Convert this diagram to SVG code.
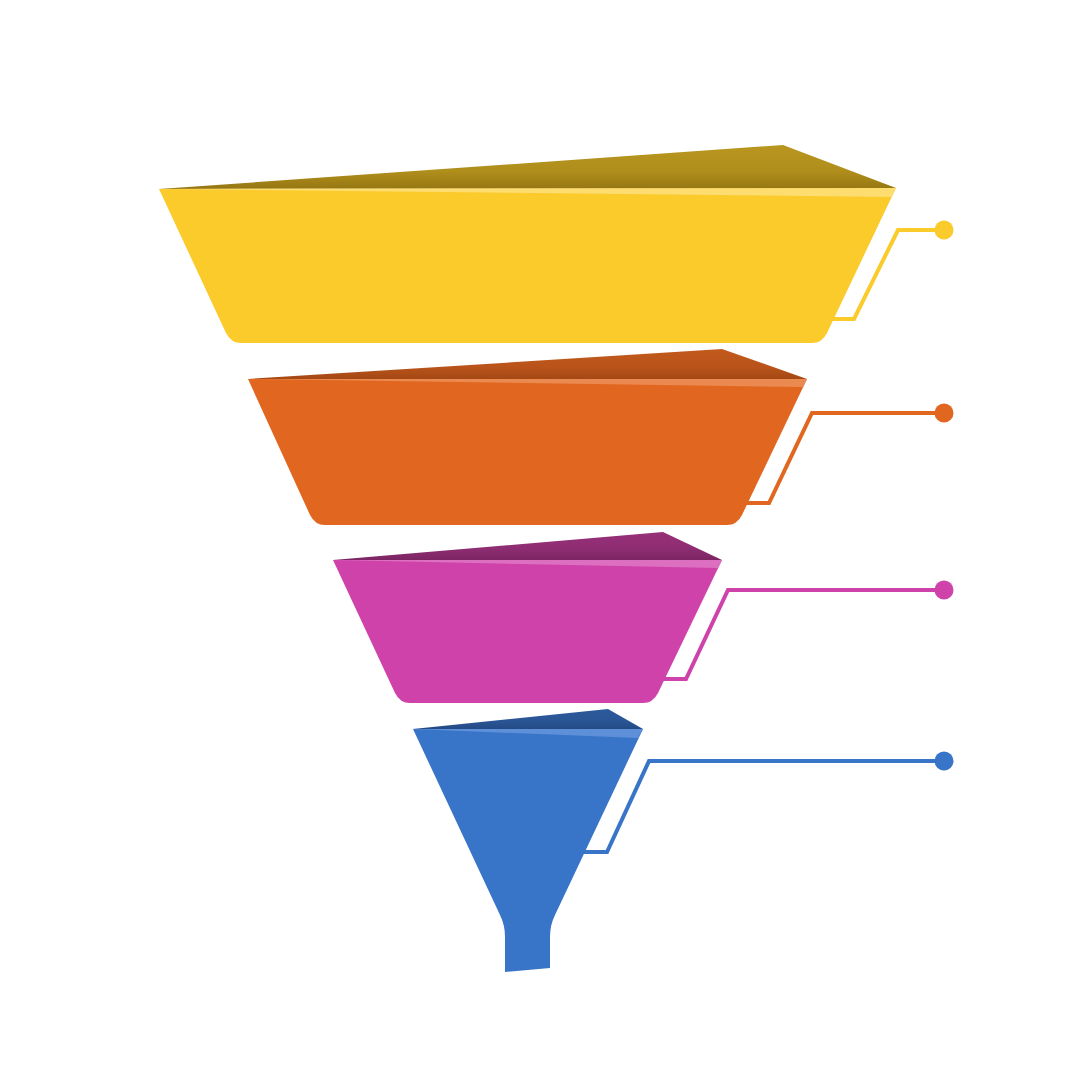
<svg xmlns="http://www.w3.org/2000/svg" width="1080" height="1080" viewBox="0 0 1080 1080">
  <defs>
    <linearGradient id="gY" x1="0" y1="0" x2="0" y2="1"><stop offset="0" stop-color="#B8961F"/><stop offset="0.6" stop-color="#B08E1C"/><stop offset="1" stop-color="#967612"/></linearGradient>
    <linearGradient id="gO" x1="0" y1="0" x2="0" y2="1"><stop offset="0" stop-color="#C25A1C"/><stop offset="0.6" stop-color="#B9531A"/><stop offset="1" stop-color="#A44814"/></linearGradient>
    <linearGradient id="gM" x1="0" y1="0" x2="0" y2="1"><stop offset="0" stop-color="#973079"/><stop offset="0.6" stop-color="#8E2D72"/><stop offset="1" stop-color="#7C2563"/></linearGradient>
    <linearGradient id="gB" x1="0" y1="0" x2="0" y2="1"><stop offset="0" stop-color="#2D5A9C"/><stop offset="0.6" stop-color="#2A5595"/><stop offset="1" stop-color="#234A85"/></linearGradient>
  </defs>
  <style>
    .lead{fill:none;stroke-width:4;stroke-linejoin:miter}
    .y{fill:#FBCA2B}.o{fill:#E1661F}.m{fill:#CE42AA}.b{fill:#3874C8}
    .ly{stroke:#FBCA2B}.lo{stroke:#E1661F}.lm{stroke:#CE42AA}.lb{stroke:#3874C8}
  </style>
  <rect width="1080" height="1080" fill="#FFFFFF"/>
  <g id="connectors">
    <path class="lead ly" d="M829,319 L854,319 L898,230 L944,230"/>
    <circle class="y" cx="944" cy="230" r="9.5"/>
    <path class="lead lo" d="M744,503 L769,503 L812,413 L944,413"/>
    <circle class="o" cx="944" cy="413" r="9.5"/>
    <path class="lead lm" d="M662,679 L686,679 L728,590 L944,590"/>
    <circle class="m" cx="944" cy="590" r="9.5"/>
    <path class="lead lb" d="M580,852 L607,852 L649,761 L944,761"/>
    <circle class="b" cx="944" cy="761" r="9.5"/>
  </g>
  <g id="layer-yellow">
    <path class="y" d="M159,189 L896,188 L827,333 Q822,343 812,343 L241,343 Q231,343 226,333 Z"/>
    <polygon fill="url(#gY)" points="159,189 783,145 896,188"/>
    <polygon fill="#FDDC70" points="159,189 896,188 892,197"/>
  </g>
  <g id="layer-orange">
    <path class="o" d="M248,379 L807,379 L742,515 Q737,525 727,525 L325,525 Q315,525 310,515 Z"/>
    <polygon fill="url(#gO)" points="248,379 722,349 807,379"/>
    <polygon fill="#EB8A50" points="248,379 807,379 803,387"/>
  </g>
  <g id="layer-magenta">
    <path class="m" d="M333,560 L722,560 L658,693 Q653,703 643,703 L410,703 Q400,703 395,693 Z"/>
    <polygon fill="url(#gM)" points="333,560 663,532 722,560"/>
    <polygon fill="#DD6FC0" points="333,560 722,560 718,568"/>
  </g>
  <g id="layer-blue">
    <path class="b" d="M413,729 L643,729 L555,915 Q550,925 550,937 L550,968 L505,972 L505,937 Q505,925 500,915 Z"/>
    <polygon fill="url(#gB)" points="413,729 608,709 643,729"/>
    <polygon fill="#5D90D8" points="413,729 643,729 638,738"/>
  </g>
</svg>
